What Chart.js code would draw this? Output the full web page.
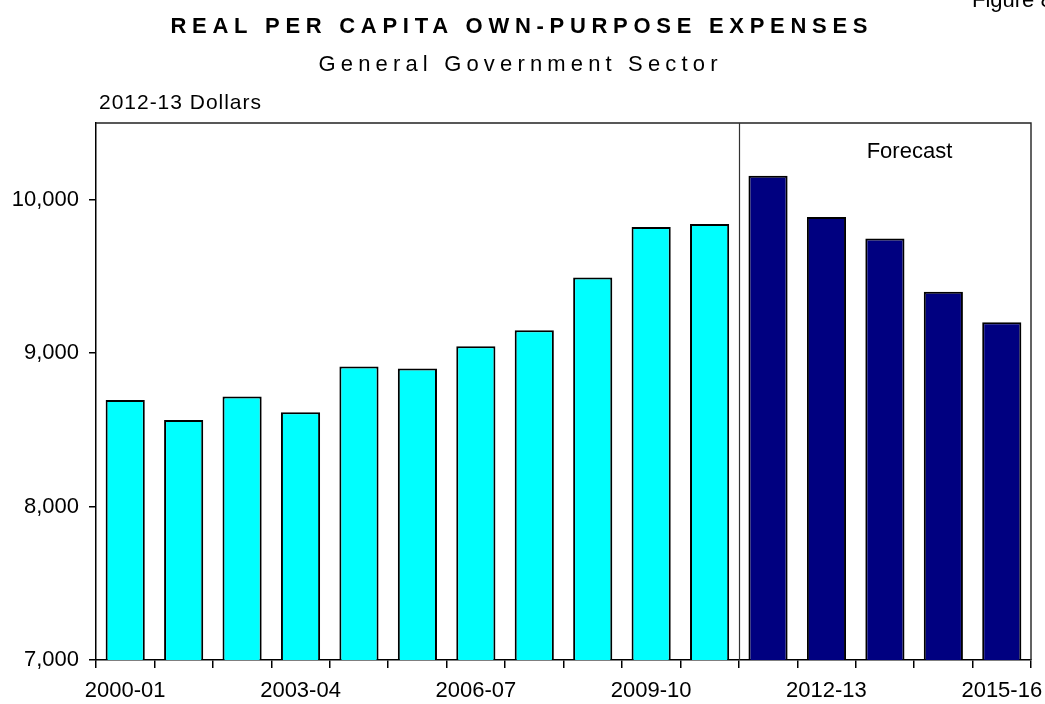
<!DOCTYPE html>
<html>
<head>
<meta charset="utf-8">
<script src="https://cdn.jsdelivr.net/npm/chart.js@4/dist/chart.umd.min.js"></script>
<style>
  html, body { margin: 0; padding: 0; background: #fff; }
  #wrap { width: 1045px; height: 704px; position: relative; }
</style>
</head>
<body>
<div id="wrap"><canvas id="c" width="1045" height="704"></canvas></div>
<script>
// Financial years and real per capita own-purpose expenses (2012-13 dollars)
const years = ['2000-01', '2001-02', '2002-03', '2003-04', '2004-05', '2005-06', '2006-07', '2007-08',
               '2008-09', '2009-10', '2010-11', '2011-12', '2012-13', '2013-14', '2014-15', '2015-16'];
const expenses = [8695, 8565, 8717, 8615, 8913, 8900, 9045, 9150,
                  9493, 9822, 9842, 10157, 9887, 9748, 9400, 9202];
const firstForecastYear = '2011-12';
const labelledYears = ['2000-01', '2003-04', '2006-07', '2009-10', '2012-13', '2015-16'];
const yTicks = [7000, 8000, 9000, 10000];
const yMin = 7000;
const yMax = 10500;

const chartTitle = 'REAL PER CAPITA OWN-PURPOSE EXPENSES';
const chartSubtitle = 'General Government Sector';
const unitsNote = '2012-13 Dollars';
const forecastNote = 'Forecast';
const figureNote = 'Figure 8';

const FONT = "'Liberation Sans', Arial, Helvetica, sans-serif";
const ACTUAL_COLOR = '#00FFFF';
const FORECAST_COLOR = '#000080';

const forecastIndex = years.indexOf(firstForecastYear);
const barColors = years.map((y, i) => i >= forecastIndex ? FORECAST_COLOR : ACTUAL_COLOR);

// Draws text spread out with letter spacing so that it spans a given width.
function spacedText(ctx, text, x, cy, font, width, align) {
  ctx.save();
  ctx.font = font;
  ctx.letterSpacing = '0px';
  const n = Array.from(text).length;
  const w0 = ctx.measureText(text).width;
  const spacing = Math.max(0, (width - w0) / (n - 1));
  ctx.letterSpacing = spacing + 'px';
  ctx.fillStyle = '#000';
  ctx.textAlign = 'left';
  ctx.textBaseline = 'middle';
  const left = align === 'center' ? x - width / 2 : x;
  ctx.fillText(text, left, cy);
  ctx.restore();
}

const decorations = {
  id: 'decorations',
  afterDraw(chart) {
    const ctx = chart.ctx;
    const area = chart.chartArea;
    const xs = chart.scales.x;

    // frame: top and right edges of the plot
    ctx.save();
    ctx.strokeStyle = '#222';
    ctx.lineWidth = 1.4;
    ctx.beginPath();
    ctx.moveTo(area.left, area.top);
    ctx.lineTo(area.right, area.top);
    ctx.lineTo(area.right, area.bottom);
    ctx.stroke();

    // divider between actual and forecast years
    const xDiv = (xs.getPixelForValue(forecastIndex - 1) + xs.getPixelForValue(forecastIndex)) / 2;
    ctx.strokeStyle = '#333';
    ctx.lineWidth = 1.2;
    ctx.beginPath();
    ctx.moveTo(Math.round(xDiv) + 0.5, area.top);
    ctx.lineTo(Math.round(xDiv) + 0.5, area.bottom);
    ctx.stroke();
    ctx.restore();

    // titles and notes
    spacedText(ctx, chartTitle, 519, 27, 'bold 22px ' + FONT, 697, 'center');
    spacedText(ctx, chartSubtitle, 518, 65, '22px ' + FONT, 399, 'center');
    spacedText(ctx, unitsNote, 99, 103, '21px ' + FONT, 162, 'left');

    ctx.save();
    ctx.fillStyle = '#000';
    ctx.font = '22px ' + FONT;
    ctx.textAlign = 'center';
    ctx.textBaseline = 'middle';
    ctx.fillText(forecastNote, xs.getPixelForValue(forecastIndex + 2.42), area.top + 29);
    ctx.textAlign = 'left';
    ctx.textBaseline = 'alphabetic';
    ctx.fillText(figureNote, 972, 7);
    ctx.restore();
  }
};

new Chart(document.getElementById('c'), {
  type: 'bar',
  data: {
    labels: years,
    datasets: [{
      data: expenses,
      backgroundColor: barColors,
      borderColor: '#000',
      borderWidth: 2,
      borderSkipped: false,
      barPercentage: 0.67,
      categoryPercentage: 1.0
    }]
  },
  options: {
    responsive: false,
    animation: false,
    devicePixelRatio: 1,
    layout: { padding: { top: 123, right: 14, left: 0, bottom: 0 } },
    plugins: {
      legend: { display: false },
      tooltip: { enabled: false },
      title: { display: false }
    },
    scales: {
      x: {
        offset: true,
        grid: {
          offset: true,
          drawOnChartArea: false,
          drawTicks: true,
          tickLength: 8,
          color: '#000',
          lineWidth: 1.5
        },
        border: { display: true, color: '#000', width: 1.5 },
        ticks: {
          autoSkip: false,
          maxRotation: 0,
          minRotation: 0,
          padding: 10,
          color: '#000',
          font: { family: FONT, size: 22 },
          callback: (v, i) => labelledYears.includes(years[i]) ? years[i] : ''
        },
        afterFit: (s) => { s.height = 44; s.paddingLeft = 0; s.paddingRight = 0; }
      },
      y: {
        min: yMin,
        max: yMax,
        grid: {
          drawOnChartArea: false,
          drawTicks: true,
          tickLength: 7,
          color: '#000',
          lineWidth: 1.5
        },
        border: { display: true, color: '#000', width: 1.5 },
        ticks: {
          padding: 10,
          color: '#000',
          font: { family: FONT, size: 22 },
          callback: (v) => Number(v).toLocaleString('en-US')
        },
        afterBuildTicks: (s) => { s.ticks = yTicks.map(v => ({ value: v })); },
        afterFit: (s) => { s.width = 96; }
      }
    }
  },
  plugins: [decorations]
});
</script>
</body>
</html>
